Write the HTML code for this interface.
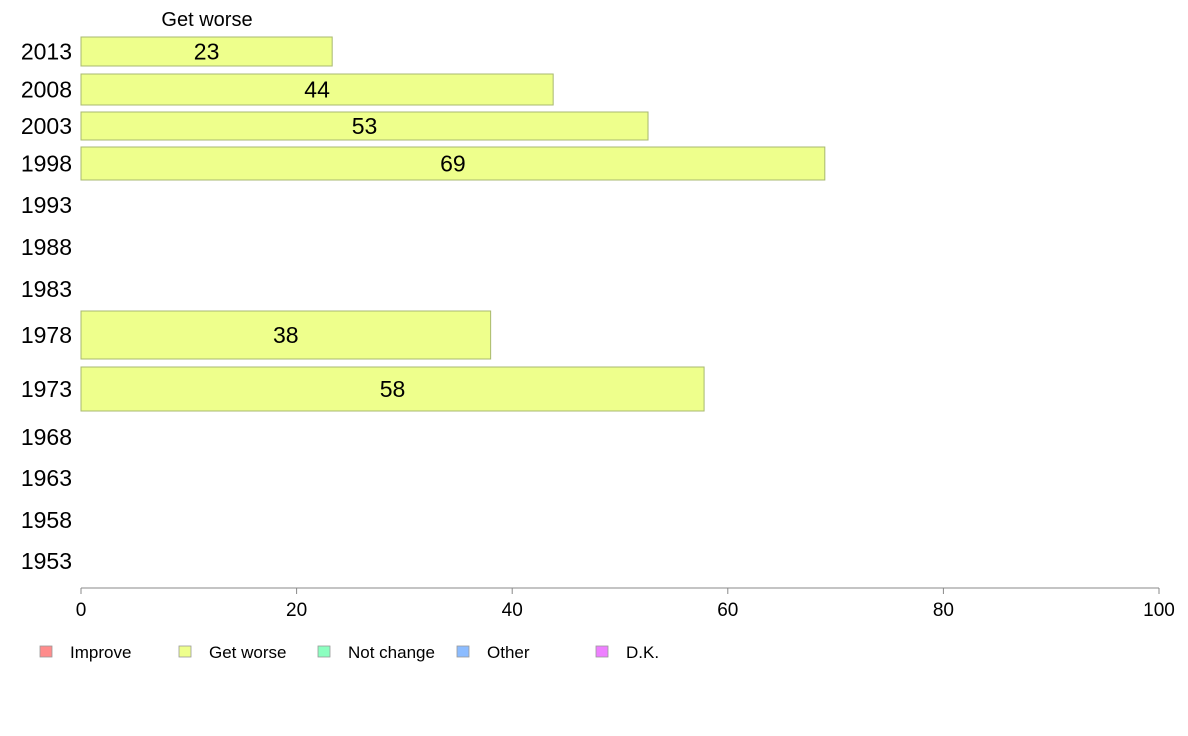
<!DOCTYPE html>
<html><head><meta charset="utf-8"><style>
body{margin:0;background:#fff;}
svg{display:block;font-family:"Liberation Sans",Arial,sans-serif;}
</style></head><body>
<svg id="chart" width="1188" height="736" xmlns="http://www.w3.org/2000/svg">
<text x="207" y="26" font-size="20" text-anchor="middle">Get worse</text>
<g id="bars"></g>
<g id="ylabels"></g>
<g id="xaxis"></g>
<g id="legend"></g>
</svg>
<script>
const years = ["2013","2008","2003","1998","1993","1988","1983","1978","1973","1968","1963","1958","1953"];
const values = [23.3,43.8,52.6,69,null,null,null,38,57.8,null,null,null,null];
const xTicks = [0,20,40,60,80,100];
const legendLabels = ["Improve","Get worse","Not change","Other","D.K."];
const legendColors = ["#ff8c8c","#eeff8c","#8cffc0","#8cbcff","#ee80ff"];
const rowTop = [37,74,112,147,190,232,274,311,367,422,463,505,546];
const rowH = [29,31,28,33,30,30,30,48,44,30,30,30,30];
const NS="http://www.w3.org/2000/svg";
const x0=81,x1=1159;
function xs(v){return x0+(x1-x0)*v/100;}
function mk(t,a,p){const e=document.createElementNS(NS,t);for(const k in a)e.setAttribute(k,a[k]);p.appendChild(e);return e;}
const bars=document.getElementById('bars'),yl=document.getElementById('ylabels'),xa=document.getElementById('xaxis'),lg=document.getElementById('legend');
years.forEach((y,i)=>{
  const cy=rowTop[i]+rowH[i]/2;
  const t=mk('text',{x:72,y:cy+8,'font-size':23,'text-anchor':'end'},yl);
  
  
  t.textContent=y;
  const v=values[i];
  if(v!=null){
    const r=mk('rect',{x:x0,y:rowTop[i],width:xs(v)-x0,height:rowH[i],fill:'#eeff8c',stroke:'#a8b870','stroke-width':1},bars);
    
    
    const l=mk('text',{x:(x0+xs(v))/2,y:cy+8,'font-size':23,'text-anchor':'middle'},bars);
    
    
    l.textContent=Math.round(v);
  }
});
mk('line',{x1:x0,x2:x1,y1:588,y2:588,stroke:'#888'},xa);
xTicks.forEach(v=>{
  mk('line',{x1:xs(v),x2:xs(v),y1:588,y2:594,stroke:'#888'},xa);
  const t=mk('text',{x:xs(v),y:616,'font-size':19,'text-anchor':'middle'},xa);
  
  
  t.textContent=v;
});
legendLabels.forEach((s,i)=>{
  const lx=40+i*139;
  const g=mk('g',{},lg);
  
  
  mk('rect',{x:lx,y:646,width:12,height:11,fill:legendColors[i],stroke:'#999','stroke-width':0.8},g);
  const t=mk('text',{x:lx+30,y:658,'font-size':17},g);
  t.textContent=s;
});
</script>
</body></html>
